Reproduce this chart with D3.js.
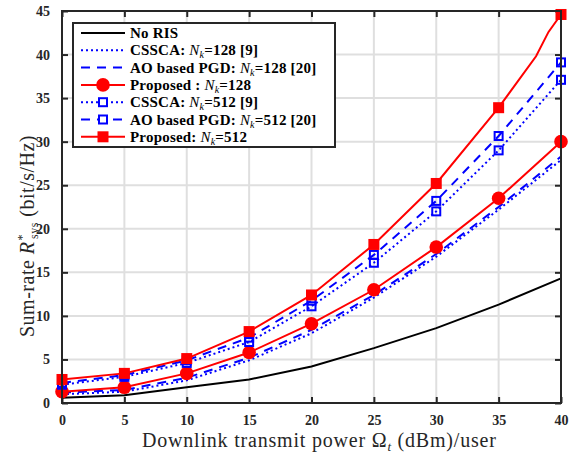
<!DOCTYPE html>
<html>
<head>
<meta charset="utf-8">
<script src="https://cdn.jsdelivr.net/npm/d3@7"></script>
<style>
  body { margin: 0; background: #fff; }
  svg { display: block; }
</style>
</head>
<body>
<div id="chart-area"></div>
<script>
// transmit power per user (dBm), marker positions
var powerDbm = [0, 5, 10, 15, 20, 25, 30, 35, 40];

// sum-rate values (bit/s/Hz)
var noRis       = [0.6, 0.9, 1.8, 2.7, 4.2, 6.3, 8.6, 11.3, 14.3];
var cssca128    = [1.0, 1.3, 2.6, 4.9, 8.0, 12.1, 16.8, 22.2, 27.9];
var aoPgd128    = [1.2, 1.5, 2.9, 5.2, 8.4, 12.4, 17.1, 22.5, 28.3];
var proposed128 = [1.3, 1.8, 3.4, 5.8, 9.1, 13.0, 17.9, 23.5, 30.0];
var cssca512    = [2.1, 3.0, 4.6, 7.0, 11.1, 16.1, 22.0, 29.0, 37.1];
var aoPgd512    = [2.3, 3.2, 4.9, 7.5, 11.75, 17.0, 23.2, 30.65, 39.1];
var proposed512 = [2.7, 3.4, 5.1, 8.2, 12.4, 18.2, 25.2, 33.9, 44.6];

// extra line samples of the proposed N=512 curve near the end (kink visible)
var proposed512LineX = [0, 5, 10, 15, 20, 25, 30, 35, 38, 39, 40];
var proposed512LineY = [2.7, 3.4, 5.1, 8.2, 12.4, 18.2, 25.2, 33.9, 39.8, 42.6, 44.6];

var xTicks = [0, 5, 10, 15, 20, 25, 30, 35, 40];
var yTicks = [0, 5, 10, 15, 20, 25, 30, 35, 40, 45];

var seriesList = [
  { name: "No RIS", nk: null, ref: "", y: noRis, color: "#000", dash: null, marker: null },
  { name: "CSSCA: ", nk: "128", ref: " [9]", y: cssca128, color: "#0000ff", dash: "2,3", marker: null },
  { name: "AO based PGD: ", nk: "128", ref: " [20]", y: aoPgd128, color: "#0000ff", dash: "9,7", marker: null },
  { name: "Proposed : ", nk: "128", ref: "", y: proposed128, color: "#ff0000", dash: null, marker: "circle" },
  { name: "CSSCA: ", nk: "512", ref: " [9]", y: cssca512, color: "#0000ff", dash: "2,3", marker: "open" },
  { name: "AO based PGD: ", nk: "512", ref: " [20]", y: aoPgd512, color: "#0000ff", dash: "9,7", marker: "open" },
  { name: "Proposed: ", nk: "512", ref: "", y: proposed512, color: "#ff0000", dash: null, marker: "square",
    lineX: proposed512LineX, lineY: proposed512LineY }
];

var width = 577, height = 453;
var margin = { top: 11, right: 16, bottom: 50, left: 62 };
var plotW = width - margin.left - margin.right;
var plotH = height - margin.top - margin.bottom;

var svg = d3.select("#chart-area").append("svg")
  .attr("width", width)
  .attr("height", height);

var g = svg.append("g")
  .attr("transform", "translate(" + margin.left + "," + margin.top + ")");

var x = d3.scaleLinear().domain([0, 40]).range([0, plotW]);
var y = d3.scaleLinear().domain([0, 45]).range([plotH, 0]);

var axisColor = "#262626";
var serif = "'Liberation Serif', 'DejaVu Serif', serif";

// grid
g.append("g").selectAll("line.gx").data(xTicks).enter().append("line")
  .attr("x1", function(d) { return x(d); }).attr("x2", function(d) { return x(d); })
  .attr("y1", 0).attr("y2", plotH)
  .attr("stroke", "#dfdfdf").attr("stroke-width", 2);
g.append("g").selectAll("line.gy").data(yTicks).enter().append("line")
  .attr("y1", function(d) { return y(d); }).attr("y2", function(d) { return y(d); })
  .attr("x1", 0).attr("x2", plotW)
  .attr("stroke", "#dfdfdf").attr("stroke-width", 2);

// axes with inward ticks on all four sides
function styleAxis(sel) {
  sel.select(".domain").remove();
  sel.selectAll(".tick line").attr("stroke", axisColor).attr("stroke-width", 2);
  sel.selectAll("text")
    .attr("fill", axisColor)
    .style("font-family", serif)
    .style("font-weight", "bold")
    .style("font-size", "14px");
}

g.append("g").attr("transform", "translate(0," + plotH + ")")
  .call(d3.axisBottom(x).tickValues(xTicks).tickSize(-6).tickPadding(12))
  .call(styleAxis);
g.append("g")
  .call(d3.axisTop(x).tickValues(xTicks).tickSize(-6).tickFormat(""))
  .call(styleAxis);
g.append("g")
  .call(d3.axisLeft(y).tickValues(yTicks).tickSize(-6).tickPadding(12))
  .call(styleAxis);
g.append("g").attr("transform", "translate(" + plotW + ",0)")
  .call(d3.axisRight(y).tickValues(yTicks).tickSize(-6).tickFormat(""))
  .call(styleAxis);

// lines
var line = d3.line()
  .x(function(d) { return x(d[0]); })
  .y(function(d) { return y(d[1]); });

g.append("defs").append("clipPath").attr("id", "plot-clip")
  .append("rect").attr("x", -10).attr("y", -10).attr("width", plotW + 20).attr("height", plotH + 10);

function drawMarkers(sel, s, pts) {
  if (s.marker === "circle") {
    sel.selectAll("circle").data(pts).enter().append("circle")
      .attr("cx", function(d) { return x(d[0]); })
      .attr("cy", function(d) { return y(d[1]); })
      .attr("r", 6.8)
      .attr("fill", s.color);
  } else if (s.marker === "square") {
    sel.selectAll("rect").data(pts).enter().append("rect")
      .attr("x", function(d) { return x(d[0]) - 5.5; })
      .attr("y", function(d) { return y(d[1]) - 5.5; })
      .attr("width", 11).attr("height", 11)
      .attr("fill", s.color);
  } else if (s.marker === "open") {
    sel.selectAll("rect").data(pts).enter().append("rect")
      .attr("x", function(d) { return x(d[0]) - 4; })
      .attr("y", function(d) { return y(d[1]) - 4; })
      .attr("width", 8).attr("height", 8)
      .attr("fill", "none")
      .attr("stroke", s.color).attr("stroke-width", 2);
  }
}

seriesList.forEach(function(s) {
  var pts = powerDbm.map(function(p, i) { return [p, s.y[i]]; });
  var linePts = s.lineX ? s.lineX.map(function(p, i) { return [p, s.lineY[i]]; }) : pts;
  var sg = g.append("g").attr("clip-path", "url(#plot-clip)");
  sg.append("path")
    .datum(linePts)
    .attr("d", line)
    .attr("fill", "none")
    .attr("stroke", s.color)
    .attr("stroke-width", 2)
    .attr("stroke-dasharray", s.dash);
  drawMarkers(sg, s, pts);
});

// frame
g.append("rect")
  .attr("width", plotW).attr("height", plotH)
  .attr("fill", "none").attr("stroke", axisColor).attr("stroke-width", 2);

// legend
var leg = svg.append("g").attr("transform", "translate(73,23)");
leg.append("rect")
  .attr("width", 262).attr("height", 124)
  .attr("fill", "#fff").attr("stroke", axisColor).attr("stroke-width", 2);

seriesList.forEach(function(s, i) {
  var ry = 10 + i * 17.3;
  var row = leg.append("g").attr("transform", "translate(0," + ry + ")");
  row.append("line")
    .attr("x1", 8).attr("x2", 52).attr("y1", 0).attr("y2", 0)
    .attr("stroke", s.color).attr("stroke-width", 2)
    .attr("stroke-dasharray", s.dash);
  var m = row.append("g");
  if (s.marker === "circle") {
    m.append("circle").attr("cx", 30).attr("cy", 0).attr("r", 6.8).attr("fill", s.color);
  } else if (s.marker === "square") {
    m.append("rect").attr("x", 24.5).attr("y", -5.5).attr("width", 11).attr("height", 11).attr("fill", s.color);
  } else if (s.marker === "open") {
    m.append("rect").attr("x", 26).attr("y", -4).attr("width", 8).attr("height", 8)
      .attr("fill", "#fff").attr("stroke", s.color).attr("stroke-width", 2);
  }
  var t = row.append("text")
    .attr("x", 57).attr("y", 5)
    .attr("fill", "#000")
    .style("font-family", serif)
    .style("font-weight", "bold")
    .style("font-size", "15px")
    .style("letter-spacing", "0.2px");
  t.append("tspan").text(s.name);
  if (s.nk) {
    t.append("tspan").style("font-style", "italic").style("font-weight", "normal").text("N");
    t.append("tspan").attr("dy", 3).style("font-size", "10px").style("font-style", "italic").style("font-weight", "normal").text("k");
    t.append("tspan").attr("dy", -3).text("=" + s.nk + s.ref);
  }
});

// axis labels
var xl = svg.append("text")
  .attr("x", 142).attr("y", 447)
  .attr("fill", axisColor)
  .style("font-family", serif)
  .style("font-size", "20px")
  .style("letter-spacing", "0.8px");
xl.append("tspan").text("Downlink transmit power Ω");
xl.append("tspan").attr("dy", 4).style("font-size", "13px").style("font-style", "italic").text("t");
xl.append("tspan").attr("dy", -4).text(" (dBm)/user");

var yl = svg.append("text")
  .attr("transform", "translate(34,337) rotate(-90)")
  .attr("fill", axisColor)
  .style("font-family", serif)
  .style("font-size", "20px")
  .style("letter-spacing", "0.5px");
yl.append("tspan").text("Sum-rate ");
yl.append("tspan").style("font-style", "italic").text("R");
yl.append("tspan").attr("dy", -8).attr("dx", 1).style("font-size", "12px").text("*");
yl.append("tspan").attr("dy", 12).attr("dx", -5).style("font-size", "12px").text("sys");
yl.append("tspan").attr("dy", -4).text("  (bit/s/Hz)");
</script>
</body>
</html>
